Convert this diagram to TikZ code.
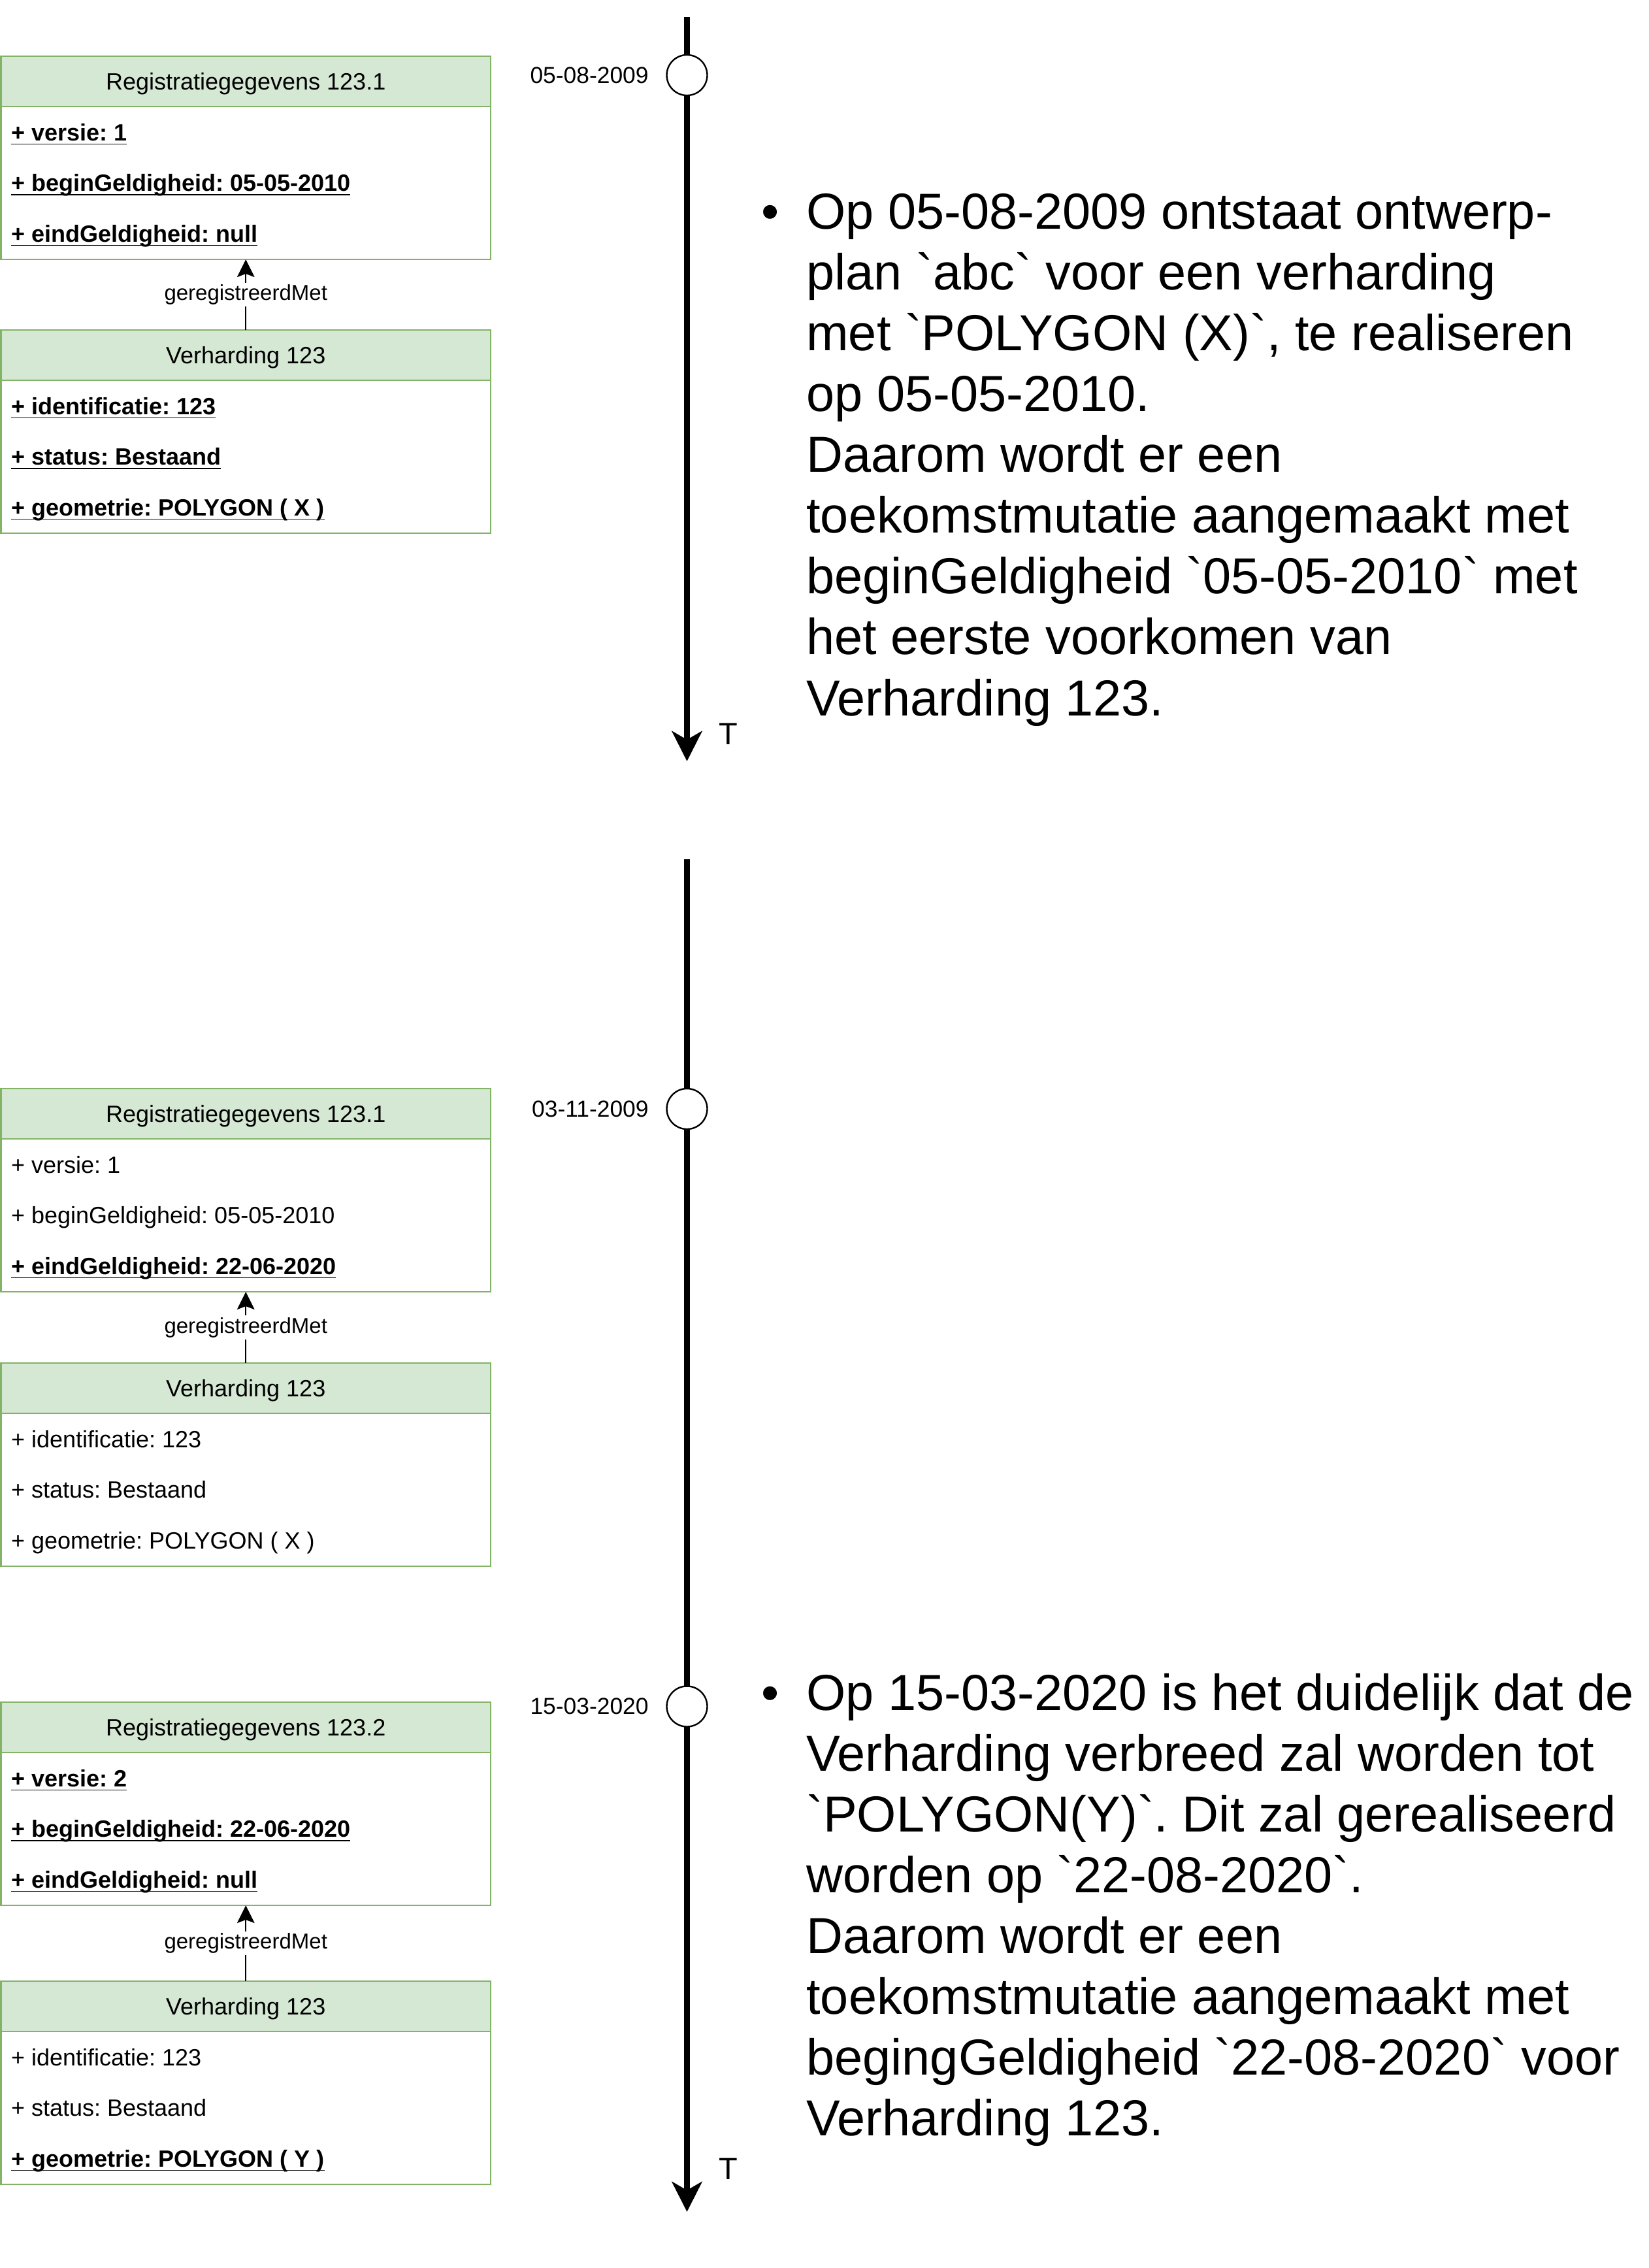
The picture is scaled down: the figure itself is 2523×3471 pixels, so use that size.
\documentclass[tikz,border=0pt]{standalone}
\usepackage{fontspec}
\setmainfont{Liberation Sans}[Ligatures = TeXOff]
\usetikzlibrary{arrows.meta,positioning}

\definecolor{headfill}{HTML}{D5E8D4}
\definecolor{boxline}{HTML}{82B366}

\newsavebox{\ulbox}
\newcommand{\ulbold}[1]{\sbox{\ulbox}{\bfseries #1}\rlap{\rule[-3.2pt]{\wd\ulbox}{0.9pt}}\usebox{\ulbox}}
\frenchspacing

\begin{document}
\begin{tikzpicture}[x = 0.5pt, y = -0.5pt,
  header/.style = {draw = boxline, line width = 1.2pt, fill = headfill, minimum width = 374.75pt, minimum height = 38.5pt, inner sep = 0pt, outer sep = 0pt, text depth = 0pt, font = \fontsize{18pt}{21pt}\selectfont},
  body/.style = {draw = boxline, line width = 1.2pt, fill = white, minimum width = 374.75pt, minimum height = 117pt, inner sep = 0pt, outer sep = 0pt},
  attr/.style = {anchor = base west, inner sep = 0pt, font = \fontsize{18pt}{21pt}\selectfont},
  relation/.style = {line width = 1.1pt, -{Stealth[length = 13.5pt, width = 13.3pt, inset = 2.5pt]}},
  rellabel/.style = {midway, fill = white, inner sep = 1.5pt, font = \fontsize{16.5pt}{19pt}\selectfont},
  timeline/.style = {line width = 4.2pt},
  timearrow/.style = {line width = 4.2pt, -{Stealth[length = 23pt, width = 23pt, inset = 6.5pt]}},
  moment/.style = {circle, draw, line width = 1.2pt, fill = white, minimum size = 31pt, inner sep = 0pt, outer sep = 0pt},
  datelabel/.style = {inner sep = 0pt, font = \fontsize{17.7pt}{21pt}\selectfont},
  axislabel/.style = {inner sep = 0pt, font = \fontsize{23.5pt}{28pt}\selectfont},
  note/.style = {align = left, anchor = base west, inner sep = 0pt, font = \fontsize{38.75pt}{46.55pt}\selectfont}]
\useasboundingbox (0, 0) rectangle (2523, 3471);

%timeline 1
\coordinate (top1) at (1051.5, 26);
\coordinate (end1) at (1051.5, 1165);
\node[moment] (c1) at (1051.5, 115) {};
\draw[timeline] (top1) -- (c1);
\draw[timearrow] (c1) -- (end1);
\node[datelabel, left = 13.75pt of c1] (d1) {05-08-2009};
\node[axislabel] (T1) at (1114.5, 1123) {T};

%timeline 2
\coordinate (top2) at (1051.5, 1315);
\coordinate (end2) at (1051.5, 3385);
\node[moment] (c2) at (1051.5, 1697) {};
\node[moment] (c3) at (1051.5, 2611.5) {};
\draw[timeline] (top2) -- (c2);
\draw[timeline] (c2) -- (c3);
\draw[timearrow] (c3) -- (end2);
\node[datelabel, left = 13.75pt of c2] (d2) {03-11-2009};
\node[datelabel, left = 13.75pt of c3] (d3) {15-03-2020};
\node[axislabel] (T2) at (1114.5, 3319) {T};

%moment 1
\node[header] (RA) at (376.25, 124.5) {Registratiegegevens 123.1};
\node[body, below = 0pt of RA] (RAb) {};
\node[attr] (RA1) at ([shift = {(7.6pt, -26pt)}] RAb.north west) {\ulbold{+ versie: 1}};
\node[attr] (RA2) at ([shift = {(7.6pt, -64.75pt)}] RAb.north west) {\ulbold{+ beginGeldigheid: 05-05-2010}};
\node[attr] (RA3) at ([shift = {(7.6pt, -103.5pt)}] RAb.north west) {\ulbold{+ eindGeldigheid: null}};

\node[header] (VA) at (376.25, 543.5) {Verharding 123};
\node[body, below = 0pt of VA] (VAb) {};
\node[attr] (VA1) at ([shift = {(7.6pt, -26pt)}] VAb.north west) {\ulbold{+ identificatie: 123}};
\node[attr] (VA2) at ([shift = {(7.6pt, -64.75pt)}] VAb.north west) {\ulbold{+ status: Bestaand}};
\node[attr] (VA3) at ([shift = {(7.6pt, -103.5pt)}] VAb.north west) {\ulbold{+ geometrie: POLYGON ( X )}};

\draw[relation] (VA) -- (RAb) node[rellabel] (LA) {geregistreerdMet};

%note 1, anchored on its last line
\node[note] (n1) at (1234, 1095) {\leavevmode\llap{•\hspace{20.7pt}}Op 05-08-2009 ontstaat ontwerp-\\
  plan `abc` voor een verharding\\
  met `POLYGON (X)`, te realiseren\\
  op 05-05-2010.\\
  Daarom wordt er een\\
  toekomstmutatie aangemaakt met\\
  beginGeldigheid `05-05-2010` met\\
  het eerste voorkomen van\\
  Verharding 123.};

%moment 2
\node[header] (RB) at (376.25, 1704.5) {Registratiegegevens 123.1};
\node[body, below = 0pt of RB] (RBb) {};
\node[attr] (RB1) at ([shift = {(7.6pt, -26pt)}] RBb.north west) {+ versie: 1};
\node[attr] (RB2) at ([shift = {(7.6pt, -64.75pt)}] RBb.north west) {+ beginGeldigheid: 05-05-2010};
\node[attr] (RB3) at ([shift = {(7.6pt, -103.5pt)}] RBb.north west) {\ulbold{+ eindGeldigheid: 22-06-2020}};

\node[header] (VB) at (376.25, 2124.5) {Verharding 123};
\node[body, below = 0pt of VB] (VBb) {};
\node[attr] (VB1) at ([shift = {(7.6pt, -26pt)}] VBb.north west) {+ identificatie: 123};
\node[attr] (VB2) at ([shift = {(7.6pt, -64.75pt)}] VBb.north west) {+ status: Bestaand};
\node[attr] (VB3) at ([shift = {(7.6pt, -103.5pt)}] VBb.north west) {+ geometrie: POLYGON ( X )};

\draw[relation] (VB) -- (RBb) node[rellabel] (LB) {geregistreerdMet};

%moment 3
\node[header] (RC) at (376.25, 2643.5) {Registratiegegevens 123.2};
\node[body, below = 0pt of RC] (RCb) {};
\node[attr] (RC1) at ([shift = {(7.6pt, -26pt)}] RCb.north west) {\ulbold{+ versie: 2}};
\node[attr] (RC2) at ([shift = {(7.6pt, -64.75pt)}] RCb.north west) {\ulbold{+ beginGeldigheid: 22-06-2020}};
\node[attr] (RC3) at ([shift = {(7.6pt, -103.5pt)}] RCb.north west) {\ulbold{+ eindGeldigheid: null}};

\node[header] (VC) at (376.25, 3070.5) {Verharding 123};
\node[body, below = 0pt of VC] (VCb) {};
\node[attr] (VC1) at ([shift = {(7.6pt, -26pt)}] VCb.north west) {+ identificatie: 123};
\node[attr] (VC2) at ([shift = {(7.6pt, -64.75pt)}] VCb.north west) {+ status: Bestaand};
\node[attr] (VC3) at ([shift = {(7.6pt, -103.5pt)}] VCb.north west) {\ulbold{+ geometrie: POLYGON ( Y )}};

\draw[relation] (VC) -- (RCb) node[rellabel] (LC) {geregistreerdMet};

%note 2, anchored on its last line
\node[note] (n2) at (1234, 3268.7) {\leavevmode\llap{•\hspace{20.7pt}}Op 15-03-2020 is het duidelijk dat de\\
  Verharding verbreed zal worden tot\\
  `POLYGON(Y)`. Dit zal gerealiseerd\\
  worden op `22-08-2020`.\\
  Daarom wordt er een\\
  toekomstmutatie aangemaakt met\\
  begingGeldigheid `22-08-2020` voor\\
  Verharding 123.};
\end{tikzpicture}
\end{document}
